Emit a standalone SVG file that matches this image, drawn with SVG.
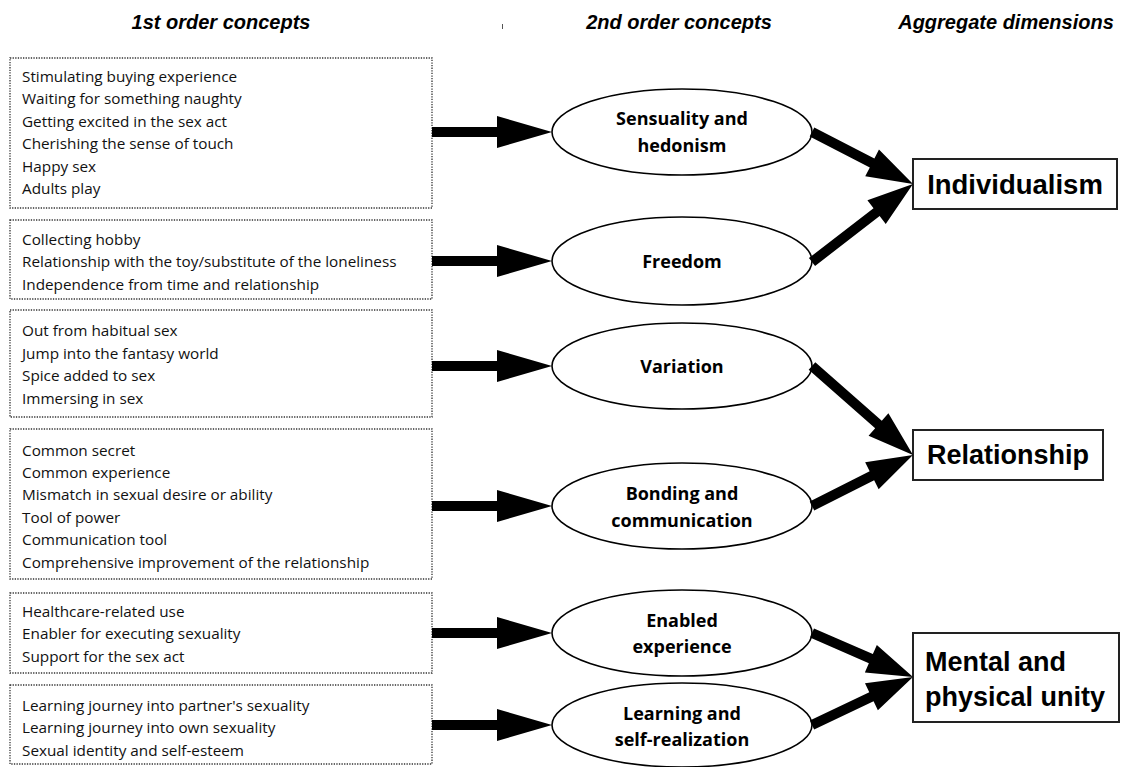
<svg xmlns="http://www.w3.org/2000/svg" width="1131" height="767" viewBox="0 0 1131 767">
<style>
.hdr{font-family:"Liberation Sans",Arial,sans-serif;font-weight:bold;font-style:italic;font-size:20px;fill:#000;text-anchor:middle;dominant-baseline:central}
.box{fill:#fff;stroke:#333;stroke-width:1.3;stroke-dasharray:1.3,1.3}
.item{font-family:"Open Sans","Liberation Sans",sans-serif;font-size:15.3px;fill:#111;dominant-baseline:central}
.ell{fill:#fff;stroke:#000;stroke-width:1.6}
.etxt{font-family:"Open Sans","Liberation Sans",sans-serif;font-weight:bold;font-size:18px;fill:#000;text-anchor:middle;dominant-baseline:central}
.agg{fill:#fff;stroke:#222;stroke-width:2}
.atxt{font-family:"Liberation Sans",Arial,sans-serif;font-weight:bold;font-size:27px;fill:#000;dominant-baseline:central}
.arr{fill:#000}
</style>
<g id="headers">
<text class="hdr" x="221" y="22">1st order concepts</text>
<text class="hdr" x="679" y="22">2nd order concepts</text>
<text class="hdr" x="1006" y="22">Aggregate dimensions</text>
<rect x="502" y="24" width="1" height="5" fill="#555"/>
</g>
<g id="box1">
<rect class="box" x="10" y="58" width="422" height="150"/>
<text class="item" x="22" y="76">Stimulating buying experience</text>
<text class="item" x="22" y="98">Waiting for something naughty</text>
<text class="item" x="22" y="121">Getting excited in the sex act</text>
<text class="item" x="22" y="143">Cherishing the sense of touch</text>
<text class="item" x="22" y="166">Happy sex</text>
<text class="item" x="22" y="188">Adults play</text>
</g>
<g id="box2">
<rect class="box" x="10" y="220" width="422" height="79"/>
<text class="item" x="22" y="239">Collecting hobby</text>
<text class="item" x="22" y="261">Relationship with the toy/substitute of the loneliness</text>
<text class="item" x="22" y="284">Independence from time and relationship</text>
</g>
<g id="box3">
<rect class="box" x="10" y="310" width="422" height="107"/>
<text class="item" x="22" y="330">Out from habitual sex</text>
<text class="item" x="22" y="353">Jump into the fantasy world</text>
<text class="item" x="22" y="375">Spice added to sex</text>
<text class="item" x="22" y="398">Immersing in sex</text>
</g>
<g id="box4">
<rect class="box" x="10" y="429" width="422" height="150"/>
<text class="item" x="22" y="450">Common secret</text>
<text class="item" x="22" y="472">Common experience</text>
<text class="item" x="22" y="494">Mismatch in sexual desire or ability</text>
<text class="item" x="22" y="517">Tool of power</text>
<text class="item" x="22" y="539">Communication tool</text>
<text class="item" x="22" y="562">Comprehensive improvement of the relationship</text>
</g>
<g id="box5">
<rect class="box" x="10" y="593" width="422" height="80"/>
<text class="item" x="22" y="611">Healthcare-related use</text>
<text class="item" x="22" y="633">Enabler for executing sexuality</text>
<text class="item" x="22" y="656">Support for the sex act</text>
</g>
<g id="box6">
<rect class="box" x="10" y="685" width="422" height="79"/>
<text class="item" x="22" y="705">Learning journey into partner's sexuality</text>
<text class="item" x="22" y="727">Learning journey into own sexuality</text>
<text class="item" x="22" y="750">Sexual identity and self-esteem</text>
</g>
<g id="sensuality">
<ellipse class="ell" cx="682" cy="132" rx="130" ry="43"/>
<text class="etxt" x="682" y="118">Sensuality and</text>
<text class="etxt" x="682" y="145">hedonism</text>
</g>
<g id="freedom">
<ellipse class="ell" cx="682" cy="261" rx="130" ry="44"/>
<text class="etxt" x="682" y="261">Freedom</text>
</g>
<g id="variation">
<ellipse class="ell" cx="682" cy="366" rx="130" ry="43"/>
<text class="etxt" x="682" y="366">Variation</text>
</g>
<g id="bonding">
<ellipse class="ell" cx="682" cy="506" rx="130" ry="43"/>
<text class="etxt" x="682" y="493">Bonding and</text>
<text class="etxt" x="682" y="520">communication</text>
</g>
<g id="enabled">
<ellipse class="ell" cx="682" cy="633" rx="130" ry="43"/>
<text class="etxt" x="682" y="620">Enabled</text>
<text class="etxt" x="682" y="646">experience</text>
</g>
<g id="learning">
<ellipse class="ell" cx="682" cy="725" rx="130" ry="42"/>
<text class="etxt" x="682" y="713">Learning and</text>
<text class="etxt" x="682" y="739">self-realization</text>
</g>
<g id="individualism">
<rect class="agg" x="913" y="159" width="204" height="50"/>
<text class="atxt" x="1015" y="184" text-anchor="middle" style="font-size:27.5px">Individualism</text>
</g>
<g id="relationship">
<rect class="agg" x="913" y="430" width="190" height="50"/>
<text class="atxt" x="1008" y="455" text-anchor="middle">Relationship</text>
</g>
<g id="unity">
<rect class="agg" x="913" y="633" width="206" height="89"/>
<text class="atxt" x="925" y="662">Mental and</text>
<text class="atxt" x="925" y="697">physical unity</text>
</g>
<g id="connectors">
<polygon class="arr" points="432,127 497,127 497,116 552,132 497,148 497,137 432,137"/>
<polygon class="arr" points="432,256 497,256 497,245 552,261 497,277 497,266 432,266"/>
<polygon class="arr" points="432,361 497,361 497,350 552,366 497,382 497,371 432,371"/>
<polygon class="arr" points="432,501 497,501 497,490 552,506 497,522 497,511 432,511"/>
<polygon class="arr" points="432,628 497,628 497,617 552,633 497,649 497,638 432,638"/>
<polygon class="arr" points="432,720 497,720 497,709 552,725 497,741 497,730 432,730"/>
<g transform="translate(812,132) rotate(27.24)"><polygon class="arr" points="0,-5 67.6,-5 67.6,-15 113.6,0 67.6,15 67.6,5 0,5"/></g>
<g transform="translate(812,262) rotate(-37.68)"><polygon class="arr" points="0,-5 81.6,-5 81.6,-15 127.6,0 81.6,15 81.6,5 0,5"/></g>
<g transform="translate(812,366) rotate(41.38)"><polygon class="arr" points="0,-5 88.6,-5 88.6,-15 134.6,0 88.6,15 88.6,5 0,5"/></g>
<g transform="translate(812,506) rotate(-26.79)"><polygon class="arr" points="0,-5 67.1,-5 67.1,-15 113.1,0 67.1,15 67.1,5 0,5"/></g>
<g transform="translate(812,633) rotate(23.54)"><polygon class="arr" points="0,-5 64.2,-5 64.2,-15 110.2,0 64.2,15 64.2,5 0,5"/></g>
<g transform="translate(812,725) rotate(-25.42)"><polygon class="arr" points="0,-5 65.8,-5 65.8,-15 111.8,0 65.8,15 65.8,5 0,5"/></g>
</g>
</svg>
